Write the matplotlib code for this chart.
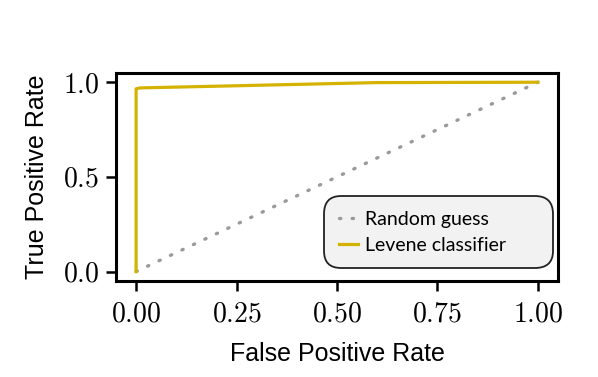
import matplotlib
matplotlib.use('Agg')
import matplotlib.pyplot as plt
from matplotlib.ticker import FuncFormatter

plt.rcParams['mathtext.fontset'] = 'cm'
plt.rcParams['font.family'] = ['Liberation Sans', 'DejaVu Sans']

# ROC data
fpr_random = [0.0, 1.0]
tpr_random = [0.0, 1.0]
fpr_levene = [0.0, 0.0, 0.01, 0.6, 1.0]
tpr_levene = [0.0, 0.965, 0.97, 0.998, 1.0]
x_ticks = [0.0, 0.25, 0.5, 0.75, 1.0]
y_ticks = [0.0, 0.5, 1.0]

fig = plt.figure(figsize=(5.98, 3.77), dpi=100)
ax = fig.add_axes([0.194, 0.2546, 0.739, 0.5524])

ax.plot(fpr_random, tpr_random, linestyle=(0, (0.4, 3.4)), color='#9a9a9a',
        linewidth=2.4, dash_capstyle='round', label='Random guess')
ax.plot(fpr_levene, tpr_levene, color='#d4b200', linewidth=2.3,
        solid_joinstyle='round', label='Levene classifier')

ax.set_xlim(-0.05, 1.05)
ax.set_ylim(-0.05, 1.05)
ax.set_xticks(x_ticks)
ax.set_yticks(y_ticks)
ax.xaxis.set_major_formatter(FuncFormatter(lambda v, p: f'${v:.2f}$'))
ax.yaxis.set_major_formatter(FuncFormatter(lambda v, p: f'${v:.1f}$'))
ax.tick_params(labelsize=20, width=1.8, length=7, color='black')
ax.tick_params(axis='x', pad=8)
ax.tick_params(axis='y', pad=5)
for s in ax.spines.values():
    s.set_linewidth(2.2)

ax.set_xlabel('False Positive Rate', fontsize=18, labelpad=10)
ax.set_ylabel('True Positive Rate', fontsize=18, labelpad=10)

leg = ax.legend(loc='lower left', bbox_to_anchor=(0.4706, 0.062, 0.518, 0.3),
                mode='expand', borderaxespad=0, prop={'family': 'Lato', 'size': 14},
                fancybox=True, facecolor='#f2f2f2', edgecolor='#222222',
                framealpha=1, handlelength=1.0, handletextpad=0.35,
                borderpad=0.75, labelspacing=0.45)
leg.get_frame().set_linewidth(1.3)
leg.get_frame().set_boxstyle('round', pad=0, rounding_size=0.9)

fig.savefig('out.png', dpi=100)
